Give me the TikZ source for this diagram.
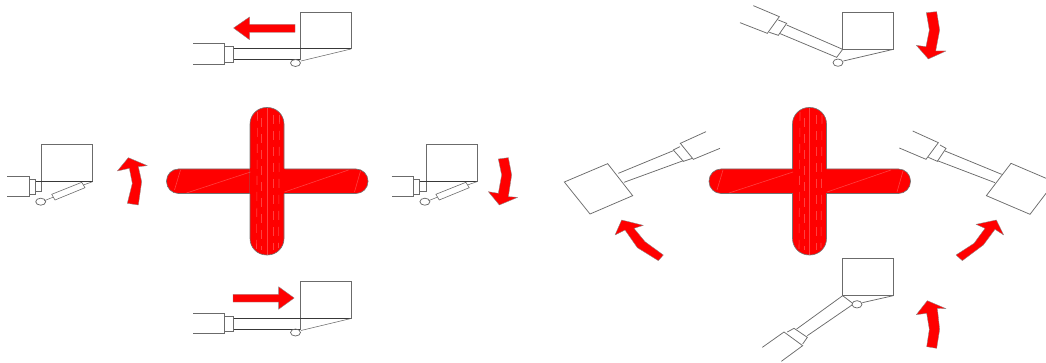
\documentclass[tikz,border=0pt]{standalone}
\tikzset{
  mech/.style={draw=black!58,line width=.75pt,line join=miter},
  dark/.style={draw=black!78,line width=.7pt},
  rarrow/.style={fill=red,draw=black!45,line width=.35pt,line join=round},
  crossfill/.style={fill=red,draw=black!55,line width=.6pt},
  streak/.style={draw=white,opacity=.25,line width=.6pt},
  streakd/.style={draw=white,opacity=.25,line width=.6pt,dash pattern=on 9pt off 7pt},
  z3/.style={x=.33333pt,y=-.33333pt}
}
\newcommand{\crossat}[1]{%
  \begin{scope}[xshift=#1pt]
    \path[crossfill,rounded corners=12pt] (0,169) rectangle (201.5,193.5);
    \path[crossfill,rounded corners=16.5pt] (83.5,107.5) rectangle (117.5,255);
    \fill[red] (83,169.4) rectangle (118,193.1);
    \fill[red] (83.9,168) rectangle (117.1,194.5);
    \draw[streak] (100.5,108) -- (100.5,255);
    \draw[streakd] (91,112) -- (90,250);
    \draw[streakd] (95,118) -- (95,250);
    \draw[streakd] (107,115) -- (107,250);
    \draw[streakd] (113,115) -- (112,248);
    \draw[streak] (20,193) -- (84,172);
    \draw[streak] (118,192) -- (182,170);
    \draw[streak] (8,190) -- (14,170);
    \draw[streak] (188,192) -- (194,171);
  \end{scope}}
\newcommand{\horizdev}[1]{%
  \begin{scope}[yshift=-#1pt]
    \draw[mech] (300,60) -- (300,12) -- (351,12) -- (351,49);
    \draw[mech] (193,43.5) -- (224,43.5) -- (224,64) -- (193,64);
    \draw[mech] (224,46.5) -- (233.5,46.5) -- (233.5,62) -- (224,62);
    \draw[dark] (233.5,48.5) -- (351,48.5);
    \draw[dark] (233.5,59.5) -- (300,59.5);
    \draw[mech,line width=.55pt] (301,61) -- (351,49);
    \draw[mech] (295.5,63) ellipse[x radius=5,y radius=3.5];
  \end{scope}}
\newcommand{\middev}[1]{%
  \begin{scope}[xshift=#1pt]
    \draw[mech] (41.7,181.7) -- (41.7,144.3) -- (92.7,144.3) -- (92.7,181.7);
    \draw[mech] (7.3,176.3) -- (29,176.3) -- (29,196.3) -- (7.3,196.3);
    \draw[mech] (29,179) -- (35.5,179) -- (35.5,194.3) -- (29,194.3);
    \draw[dark] (35.5,181.7) -- (92.7,181.7);
    \draw[mech] (35.5,191.7) -- (41.7,191.7) -- (41.7,181.7);
    \draw[mech,line width=.6pt] (51.7,194.3) -- (81.7,182.3) -- (85,187.7) -- (55,200) -- cycle;
    \draw[mech,line width=.55pt] (44.3,200.7) -- (53.4,197.1);
    \draw[mech,line width=.55pt] (83.3,185) -- (92.7,181.7);
    \draw[mech] (40.7,201.7) ellipse[x radius=5,y radius=3.5];
  \end{scope}}
\begin{document}
\begin{tikzpicture}[x=1pt,y=-1pt]
\useasboundingbox (0,0) rectangle (1046,363);
\clip (0,0) rectangle (1046,363);
\crossat{166.5}
\crossat{709}
\horizdev{0}
\horizdev{269.5}
\middev{0}
\middev{384.2}
% top and bottom straight arrows
\path[rarrow] (233.5,28) -- (249.5,17) -- (249.5,24.3) -- (295,24.3) -- (295,32.3) -- (249.5,32.3) -- (249.5,39.7) -- cycle;
\path[rarrow] (294.2,298) -- (278.6,286.7) -- (278.6,294.3) -- (233,294.3) -- (233,302) -- (278.6,302) -- (278.6,309.3) -- cycle;
% left-group curved arrows
\begin{scope}[yshift=-135pt,z3]
  \path[rarrow] (385,68) -- (442,92) -- (415,95) -- (425,140) -- (415,210) -- (382,205) -- (397,145) -- (388,100) -- (352,108) -- cycle;
\end{scope}
\begin{scope}[xshift=385pt,yshift=-135pt,z3]
  \path[rarrow] (343,210) -- (310,170) -- (340,175) -- (350,120) -- (340,72) -- (370,68) -- (380,120) -- (370,185) -- (398,187) -- cycle;
\end{scope}
% right-group devices, top
\begin{scope}[xshift=530pt,z3]
  \draw[mech] (938,37) rectangle (1090,148);
  \draw[mech] (670,17) -- (748,50) -- (712,100) -- (630,68);
  \draw[mech] (745,60) -- (770,70) -- (745,106) -- (718,97);
  \draw[mech] (770,75) -- (938,148) -- (920,172) -- (748,100);
  \draw[mech] (940,183) -- (1090,148);
  \draw[mech] (924,188) ellipse[x radius=15,y radius=11];
  \path[rarrow] (1195,177) -- (1159,136) -- (1188,140) -- (1198,90) -- (1189,38) -- (1220,35) -- (1229,90) -- (1217,153) -- (1248,153) -- cycle;
\end{scope}
\begin{scope}[xshift=530pt,yshift=-180pt,z3]
  \draw[mech] (938,236) rectangle (1090,347);
  \draw[mech] (938,347) -- (968,370);
  \draw[mech] (997,368) -- (1090,347);
  \draw[mech] (981,373) ellipse[x radius=15,y radius=11];
  \draw[mech] (938,347) -- (800,447);
  \draw[mech] (966,375) -- (832,467);
  \draw[mech] (697,502) -- (762,456) -- (818,497) -- (754,544);
  \draw[mech] (772,456) -- (792,445) -- (832,472) -- (818,492);
  \path[rarrow] (1192,362) -- (1248,386) -- (1222,385) -- (1229,448) -- (1220,505) -- (1190,500) -- (1198,448) -- (1190,400) -- (1159,404) -- cycle;
  \path[rarrow] (275,120) -- (340,136) -- (312,145) -- (345,185) -- (400,225) -- (385,242) -- (322,203) -- (285,150) -- (255,165) -- cycle;
  \path[rarrow] (1399,120) -- (1421,165) -- (1395,148) -- (1360,195) -- (1297,242) -- (1278,225) -- (1332,190) -- (1365,145) -- (1338,133) -- cycle;
\end{scope}
% tilted devices
\begin{scope}[xshift=555pt,yshift=-120pt,z3]
  \draw[mech] (158,131) -- (233,227) -- (105,282) -- (28,186) -- cycle;
  \draw[mech] (190,160) -- (355,92);
  \draw[mech] (207,187) -- (385,122);
  \draw[mech] (355,90) -- (375,80);
  \draw[mech] (355,90) -- (385,124) -- (412,115);
  \draw[mech] (453,35) -- (376,70) -- (415,118) -- (495,85);
\end{scope}
\begin{scope}[xshift=890pt,yshift=-120pt,z3]
  \draw[mech] (363,130) -- (494,186) -- (420,283) -- (289,227) -- cycle;
  \draw[mech] (165,93) -- (335,163);
  \draw[mech] (142,122) -- (315,188);
  \draw[mech] (68,33) -- (145,68) -- (108,118) -- (28,84);
  \draw[mech] (150,75) -- (168,85) -- (142,124) -- (115,112);
\end{scope}
\end{tikzpicture}
\end{document}
